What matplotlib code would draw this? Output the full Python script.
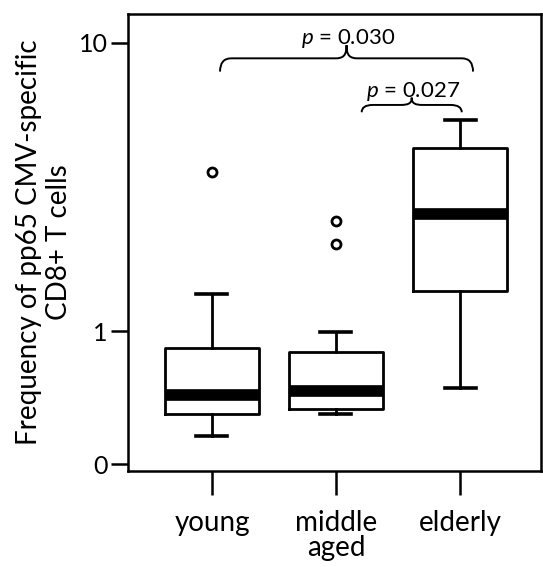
import numpy as np
import matplotlib
matplotlib.use("Agg")
import matplotlib.pyplot as plt
from matplotlib.path import Path
from matplotlib.patches import PathPatch
import matplotlib.transforms as mtransforms

plt.rcParams['font.family'] = ['Lato', 'DejaVu Sans']
plt.rcParams['mathtext.fontset'] = 'custom'
plt.rcParams['mathtext.it'] = 'Lato:italic'
plt.rcParams['mathtext.rm'] = 'Lato'

#%% data (log axis)
groups = ["young", "middle\naged", "elderly"]
whislo = [0.433, 0.514, 0.637]
q1 = [0.514, 0.536, 1.38]
med = [0.598, 0.621, 2.55]
q3 = [0.871, 0.843, 4.31]
whishi = [1.35, 0.99, 5.40]
fliers = [[3.56], [2.0, 2.415], []]

ytick_vals = [0.345, 1, 10]
ytick_labels = ["0", "1", "10"]

comparisons = [(1.065, 3.105, "$\\it{p}$ = 0.030"), (2.207, 3.014, "$\\it{p}$ = 0.027")]

#%% figure
fig = plt.figure(figsize=(5.43, 5.67), dpi=100)
ax = fig.add_axes([128/543, 1-471/567, 413/543, 457/567])

stats = []
for i in range(len(groups)):
    stats.append(dict(whislo=whislo[i], q1=q1[i], med=med[i], q3=q3[i],
                      whishi=whishi[i], fliers=fliers[i]))

pos = np.arange(1, len(groups)+1)
ax.bxp(stats, positions=pos, widths=0.76, capwidths=0.25, showfliers=True,
       boxprops=dict(color='black', linewidth=2.0),
       whiskerprops=dict(color='black', linewidth=2.0),
       capprops=dict(color='black', linewidth=2.6),
       medianprops=dict(color='black', linewidth=8.4, solid_capstyle='butt'),
       flierprops=dict(marker='o', markersize=6.5, markeredgewidth=2.0,
                       markeredgecolor='black', markerfacecolor='none'))

ax.set_yscale('log')
ax.set_ylim(0.327, 12.6)
ax.set_xlim(0.323, 3.653)
ax.set_yticks(ytick_vals)
ax.set_yticklabels(ytick_labels)
ax.yaxis.set_minor_locator(matplotlib.ticker.NullLocator())
ax.set_xticks(pos)
ax.set_xticklabels(groups, linespacing=0.95)

for s in ax.spines.values():
    s.set_linewidth(1.8)
ax.tick_params(axis='y', length=12.5, width=1.8, labelsize=18, pad=2)
ax.tick_params(axis='x', length=17, width=1.8, labelsize=20, pad=11)

ax.set_ylabel("Frequency of pp65 CMV-specific\nCD8+ T cells", fontsize=20,
              linespacing=1.2)
ax.yaxis.set_label_coords(-0.135, 0.5)

#%% curly braces with p values
def brace(ax, x0, x1, y, h, text):
    trans = mtransforms.blended_transform_factory(ax.transData, ax.transAxes)
    xm = (x0 + x1) / 2
    r = 0.09
    verts = [(x0, y - h), (x0, y), (x0 + r, y),
             (xm - r, y),
             (xm - r*0.3, y), (xm, y + h*0.2), (xm, y + h),
             (xm, y + h*0.2), (xm + r*0.3, y), (xm + r, y),
             (x1 - r, y),
             (x1, y), (x1, y - h)]
    codes = [Path.MOVETO, Path.CURVE3, Path.CURVE3,
             Path.LINETO,
             Path.CURVE4, Path.CURVE4, Path.CURVE4,
             Path.CURVE4, Path.CURVE4, Path.CURVE4,
             Path.LINETO,
             Path.CURVE3, Path.CURVE3]
    ax.add_patch(PathPatch(Path(verts, codes), transform=trans, fill=False,
                           lw=1.4, color='black', clip_on=False))
    ax.text(xm + 0.01, y + h + 0.002, text, transform=trans, ha='center',
            va='baseline', fontsize=16)

brace(ax, comparisons[0][0], comparisons[0][1], 0.903, 0.029, comparisons[0][2])
brace(ax, comparisons[1][0], comparisons[1][1], 0.801, 0.016, comparisons[1][2])

fig.savefig("out.png", dpi=100)
